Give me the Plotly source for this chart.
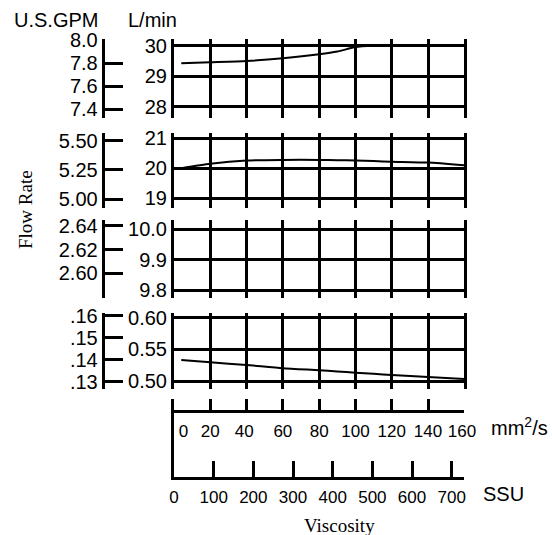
import plotly.graph_objects as go

# ---------------- data ----------------
viscosity_mm2s = [4, 20, 40, 60, 80, 90, 100, 110, 120, 140, 160]
flow_30_lmin = [29.42, 29.45, 29.49, 29.58, 29.71, 29.80, 29.95, 29.99, 30.0, 30.0, 30.0]
flow_20_lmin = [20.0, 20.15, 20.26, 20.28, 20.28, 20.27, 20.26, 20.24, 20.22, 20.19, 20.10]
flow_10_lmin = [10.0, 10.0, 10.0, 10.0, 10.0, 10.0, 10.0, 10.0, 10.0, 10.0, 10.0]
flow_05_lmin = [0.5334, 0.5297, 0.5254, 0.5203, 0.5171, 0.5152, 0.5133, 0.5115, 0.5097, 0.5065, 0.5034]
series = [flow_30_lmin, flow_20_lmin, flow_10_lmin, flow_05_lmin]

lmin_ticks = [[28, 29, 30], [19, 20, 21], [9.8, 9.9, 10.0], [0.50, 0.55, 0.60]]
lmin_text = [["28", "29", "30"], ["19", "20", "21"], ["9.8", "9.9", "10.0"], ["0.50", "0.55", "0.60"]]
gpm_ticks = [[7.4, 7.6, 7.8, 8.0], [5.0, 5.25, 5.5], [2.60, 2.62, 2.64], [0.13, 0.14, 0.15, 0.16]]
gpm_text = [["7.4", "7.6", "7.8", "8.0"], ["5.00", "5.25", "5.50"], ["2.60", "2.62", "2.64"],
            [".13", ".14", ".15", ".16"]]
mm2s_ticks = [0, 20, 40, 60, 80, 100, 120, 140, 160]
mm2s_text = ["\u00a0\u00a0\u00a0\u00a00", "20", "40\u00a0", "60", "80", "100", "120", "140", "160\u00a0"]
ssu_ticks = [0, 100, 200, 300, 400, 500, 600, 700]
ssu_text = ["0", "100", "200", "300", "400", "500", "600", "700"]

# ---------------- layout geometry (pixels) ----------------
W, H = 552, 535
X0, X1 = 174, 464.3
xdom = [X0 / W, X1 / W]
panel_px = [(39, 118), (133, 208), (220, 298), (313, 389)]
lmin_ref = [((30, 45.5), (28, 106.5)), ((21, 138.3), (19, 198.3)),
            ((10.0, 229.3), (9.8, 290)), ((0.60, 317.8), (0.50, 381.1))]
gpm_ref = [((8.0, 40), (7.4, 109)), ((5.5, 140.7), (5.0, 199)),
           ((2.64, 225.7), (2.60, 273.3)), ((0.16, 315.7), (0.13, 381.7))]


def rng(ref, top, bot):
    (v1, p1), (v2, p2) = ref
    s = (v1 - v2) / (p1 - p2)
    return [v1 + (bot - p1) * s, v1 + (top - p1) * s]


def py(p):
    return 1 - p / H


tickfont = dict(family="Liberation Sans, Arial", size=20, color="black")
xfont = dict(family="Liberation Sans, Arial", size=17, color="black")

fig = go.Figure()
layout = dict(width=W, height=H, margin=dict(l=0, r=0, t=0, b=0),
              paper_bgcolor="white", plot_bgcolor="white", showlegend=False)

for i in range(4):
    n = "" if i == 0 else str(i + 1)
    g = str(5 + i)
    top, bot = panel_px[i]
    fig.add_trace(go.Scatter(x=viscosity_mm2s, y=series[i], mode="lines",
                             line=dict(color="black", width=2, shape="spline", smoothing=0.6),
                             xaxis="x" + n, yaxis="y" + n, hoverinfo="skip"))
    fig.add_trace(go.Scatter(x=[], y=[], xaxis="x" + n, yaxis="y" + g, hoverinfo="skip"))
    layout["xaxis" + n] = dict(domain=xdom, range=[0, 160], anchor="y" + n, tickvals=mm2s_ticks,
                               showgrid=True, gridcolor="black", gridwidth=3, showticklabels=False,
                               ticks="", zeroline=False, showline=False)
    layout["yaxis" + n] = dict(domain=[py(bot), py(top)], range=rng(lmin_ref[i], top, bot),
                               anchor="x" + n, tickvals=lmin_ticks[i], ticktext=lmin_text[i],
                               showgrid=True, gridcolor="black", gridwidth=3, showline=True,
                               mirror=True, linecolor="black", linewidth=3, ticks="",
                               zeroline=False, tickfont=tickfont, automargin=False)
    layout["yaxis" + g] = dict(overlaying="y" + n, anchor="free", position=102.7 / W, side="left",
                               range=rng(gpm_ref[i], top, bot), tickvals=gpm_ticks[i],
                               ticktext=gpm_text[i], ticks="inside", ticklen=18, tickwidth=3,
                               tickcolor="black", showline=True, linecolor="black", linewidth=3,
                               showgrid=False, zeroline=False, tickfont=tickfont, automargin=False)

# bottom viscosity scales
fig.add_trace(go.Scatter(x=[], y=[], xaxis="x6", yaxis="y9", hoverinfo="skip"))
fig.add_trace(go.Scatter(x=[], y=[], xaxis="x5", yaxis="y9", hoverinfo="skip"))
layout["yaxis9"] = dict(domain=[py(477), py(399)], range=[0, 1], anchor="x6", showline=True,
                        linecolor="black", linewidth=3, showgrid=False, showticklabels=False,
                        ticks="", zeroline=False)
ssu_max = 700 * (X1 - X0) / (451.7 - X0)
layout["xaxis6"] = dict(domain=xdom, range=[0, ssu_max], anchor="y9", side="bottom", showline=True,
                        linecolor="black", linewidth=3, ticks="inside", ticklen=16, tickwidth=3,
                        tickcolor="black", tickvals=ssu_ticks, ticktext=ssu_text, showgrid=False,
                        zeroline=False, tickfont=xfont, tickangle=0, ticklabelstandoff=3,
                        automargin=False)
layout["xaxis5"] = dict(overlaying="x6", anchor="free", position=py(410.7), side="bottom",
                        range=[0, 160], showline=True, linecolor="black", linewidth=3,
                        ticks="inside", ticklen=11, tickwidth=3, tickcolor="black",
                        tickvals=mm2s_ticks, ticktext=mm2s_text, showgrid=False, zeroline=False,
                        tickfont=xfont, tickangle=0, ticklabelstandoff=4, automargin=False)

sans = dict(family="Liberation Sans, Arial", size=20, color="black")
serif = dict(family="Liberation Serif, Times New Roman", size=19, color="black")
layout["annotations"] = [
    dict(text="U.S.GPM", x=12 / W, y=py(20), xref="paper", yref="paper", xanchor="left",
         yanchor="middle", showarrow=False, font=sans),
    dict(text="L/min", x=126 / W, y=py(20), xref="paper", yref="paper", xanchor="left",
         yanchor="middle", showarrow=False, font=sans),
    dict(text="Flow Rate", x=25 / W, y=py(210), xref="paper", yref="paper", xanchor="center",
         yanchor="middle", textangle=-90, showarrow=False, font=serif),
    dict(text="Viscosity", x=339 / W, y=py(525), xref="paper", yref="paper", xanchor="center",
         yanchor="middle", showarrow=False, font=serif),
    dict(text="mm<sup>2</sup>/s", x=489 / W, y=py(426), xref="paper", yref="paper",
         xanchor="left", yanchor="middle", showarrow=False, font=sans),
    dict(text="SSU", x=481 / W, y=py(494), xref="paper", yref="paper", xanchor="left",
         yanchor="middle", showarrow=False, font=sans),
]

fig.update_layout(**layout)
fig.write_html("out.html", config={"displayModeBar": False},
               post_script="document.body.style.margin='0px';")
